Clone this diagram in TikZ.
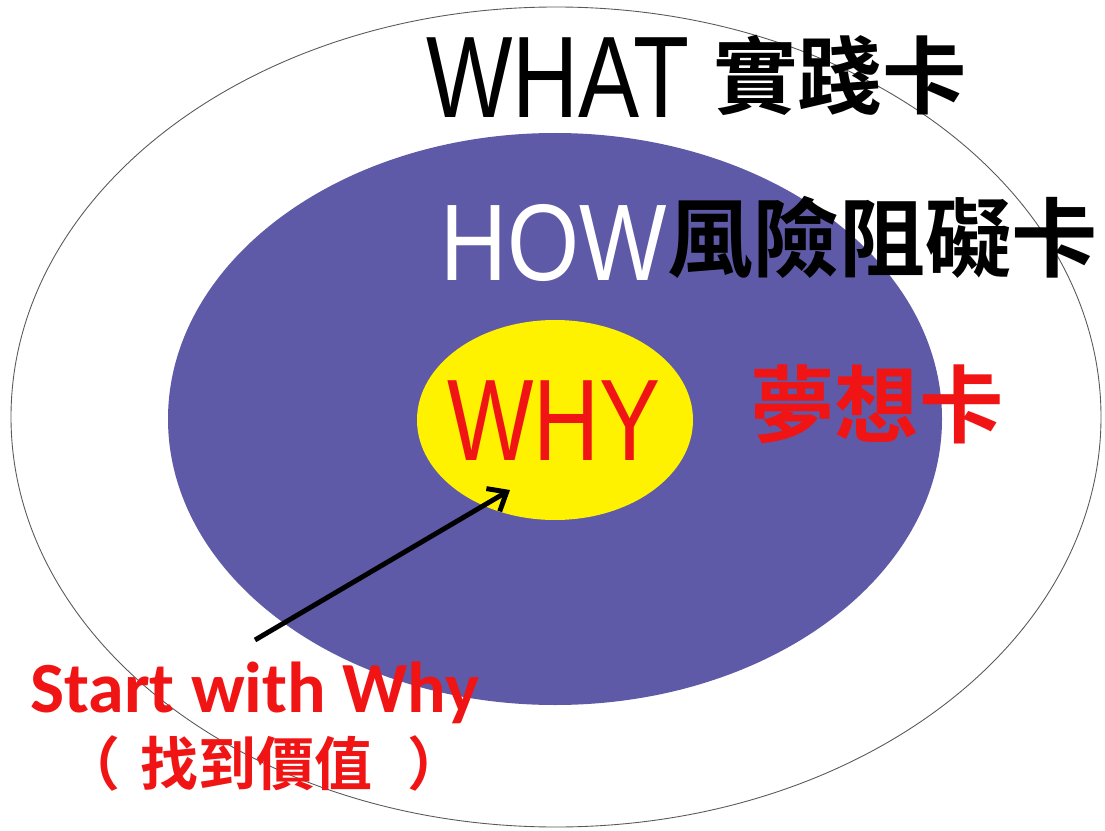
\documentclass[tikz,border=0pt]{standalone}
\usepackage{fontspec}
\newfontfamily\cjkb{Noto Sans CJK TC Bold}
\newfontfamily\latn[FakeStretch=0.79]{Liberation Sans}
\newfontfamily\latnb[FakeStretch=0.85]{Liberation Sans}
\newfontfamily\calb{Carlito}[BoldFont={* Bold}]
\usetikzlibrary{arrows.meta}
\definecolor{purp}{RGB}{95,90,168}
\definecolor{yel}{RGB}{255,242,0}
\definecolor{redt}{RGB}{240,20,20}
\begin{document}
\begin{tikzpicture}[x=0.02cm,y=-0.02cm,
  lbl/.style={inner sep=0pt, anchor=base west},
  big/.style={font=\latn\fontsize{66}{66}\selectfont},
  cjkbig/.style={font=\cjkb\fontsize{48}{48}\selectfont}]
\useasboundingbox (0,0) rectangle (1105,831);
\fill[white] (0,0) rectangle (1105,831);
% circles
\draw[gray!70!black, line width=0.5pt] (556,417) ellipse [x radius=545, y radius=410];
\fill[purp] (555,419) ellipse [x radius=387, y radius=286];
\fill[yel] (555,420) ellipse [x radius=138, y radius=100];
% texts
\node[lbl, big, text=black] (what) at (426,118) {WHAT};
\node[lbl, cjkbig, text=black] (whatc) at (713,108) {實踐卡};
\node[lbl, font=\latnb\fontsize{62}{62}\selectfont, text=white] (how) at (440,280) {HOW};
\node[lbl, cjkbig, font=\cjkb\fontsize{49}{49}\selectfont, text=black] (howc) at (667,271) {風險阻礙卡};
\node[lbl, big, text=redt] (why) at (447,460) {WHY};
\node[lbl, cjkbig, text=redt] (dream) at (750,436) {夢想卡};
\node[lbl, font=\calb\bfseries\fontsize{41}{41}\selectfont, text=redt] (start) at (30,712) {Start with Why};
\node[lbl, font=\cjkb\fontsize{33}{33}\selectfont, text=redt] (value) at (62,785) {（\hspace{0.35em}找到價值\hspace{0.6em}）};
% arrow
\coordinate (tail) at (255,640);
\coordinate (tip) at (510,490);
\draw[line width=2.8pt, -{Straight Barb[length=9pt,width=15pt,line width=2.8pt]}] (tail) -- (tip);
\end{tikzpicture}
\end{document}
